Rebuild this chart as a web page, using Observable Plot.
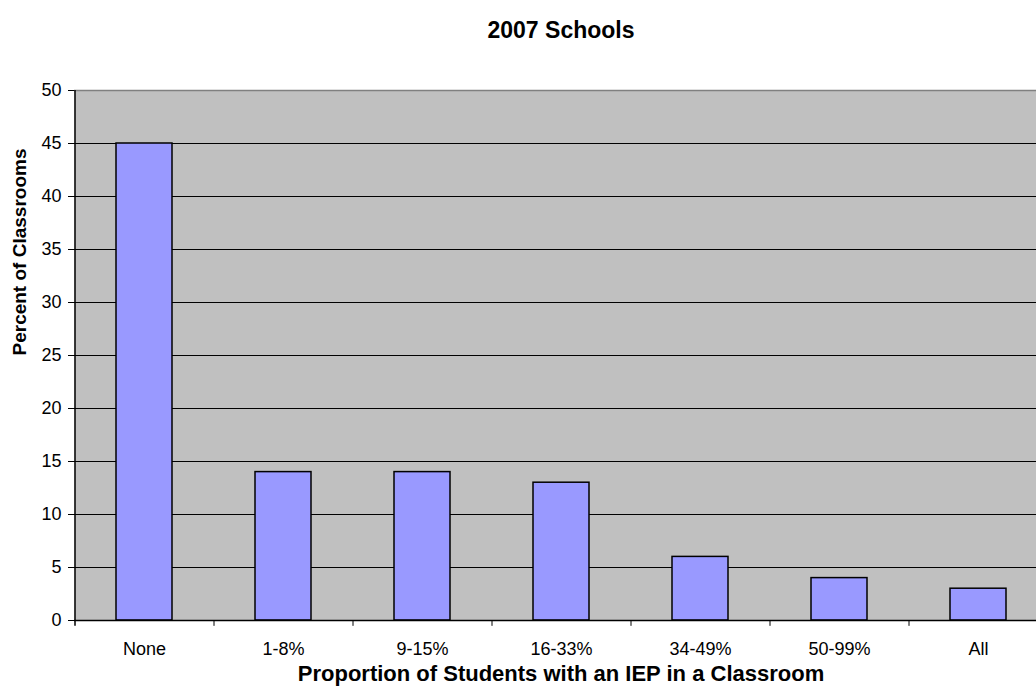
<!DOCTYPE html>
<html><head><meta charset="utf-8">
<script src="https://cdn.jsdelivr.net/npm/d3@7"></script>
<script src="https://cdn.jsdelivr.net/npm/@observablehq/plot@0.6"></script>
<style>body{margin:0;background:#fff;overflow:hidden} svg{display:block}</style>
</head><body><div id="chart"></div>
<script>
const categories = ["None", "1-8%", "9-15%", "16-33%", "34-49%", "50-99%", "All"];
const values = [45, 14, 14, 13, 6, 4, 3];
const yTicks = [0, 5, 10, 15, 20, 25, 30, 35, 40, 45, 50];
const gridLines = [5, 10, 15, 20, 25, 30, 35, 40, 45];
const title = "2007 Schools";
const xTitle = "Proportion of Students with an IEP in a Classroom";
const yTitle = "Percent of Classrooms";

const data = categories.map((c, i) => ({category: c, value: values[i]}));
const font = "'Liberation Sans', Arial, sans-serif";

const plot = Plot.plot({
  width: 1036, height: 692,
  marginTop: 90, marginBottom: 72, marginLeft: 74, marginRight: 0,
  style: {fontFamily: font, fontSize: "18px", background: "#fff", overflow: "hidden", color: "#000"},
  x: {type: "band", domain: categories, range: [74, 1047], paddingInner: 0.6, paddingOuter: 0.3},
  y: {domain: [0, 50], range: [620, 90]},
  marks: [
    Plot.frame({fill: "#C0C0C0", stroke: null}),
    Plot.ruleY(gridLines, {stroke: "#000", strokeWidth: 1}),
    Plot.ruleY([50], {stroke: "#808080", strokeWidth: 1.5}),
    Plot.barY(data, {x: "category", y: "value", fill: "#9999FF", stroke: "#000", strokeWidth: 1.5}),
    Plot.ruleY([0], {stroke: "#000", strokeWidth: 1.5}),
    Plot.ruleX(categories.slice(1), {x: d => d, dx: -69.5, y1: 0, y2: -0.55, stroke: "#000"}),
    Plot.ruleX(categories.slice(0, 1), {x: d => d, dx: -69.5, y1: -0.55, y2: 50, stroke: "#000", strokeWidth: 1.5}),
    Plot.axisY({ticks: yTicks, tickSize: 6, tickPadding: 7, tickFormat: d => String(d), label: null, fontSize: 18}),
    Plot.axisX({tickSize: 0, tickPadding: 22, label: null, fontSize: 18}),
    Plot.text([title], {text: d => d, frameAnchor: "top", dx: 5.5, dy: -69, fontWeight: "bold", fontSize: 23}),
    Plot.text([xTitle], {text: d => d, frameAnchor: "bottom", dx: 5.5, dy: 60, fontWeight: "bold", fontSize: 22}),
    Plot.text([yTitle], {text: d => d, frameAnchor: "left", dx: -55, rotate: -90, fontWeight: "bold", fontSize: 19})
  ]
});
document.getElementById("chart").appendChild(plot);
</script>
</body></html>
